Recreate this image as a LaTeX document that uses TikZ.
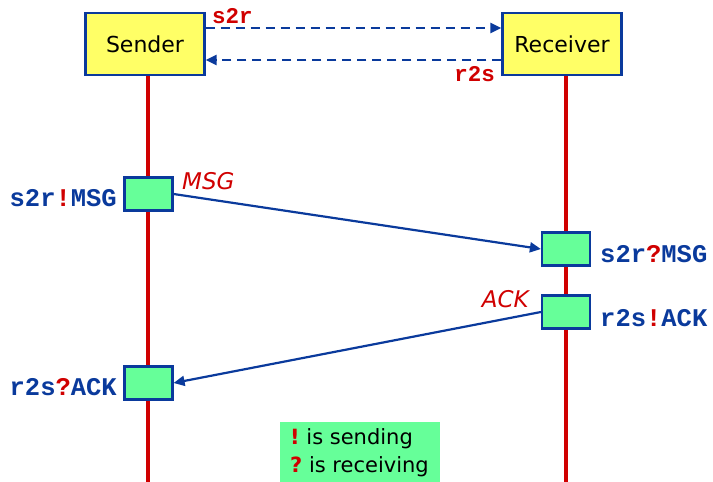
\documentclass[tikz,border=0pt]{standalone}
\usepackage{fontspec}
\setmainfont{DejaVu Sans}
\newfontfamily\codefont{Liberation Mono}
\usetikzlibrary{arrows.meta}
\definecolor{bblue}{HTML}{0A3A9C}
\definecolor{rred}{HTML}{D00000}
\definecolor{yfill}{HTML}{FFFF66}
\definecolor{gfill}{HTML}{66FF99}
\tikzset{
  actor/.style={draw=bblue, line width=2.2pt, fill=yfill, minimum width=119pt, minimum height=62pt, inner sep=0pt, font=\fontsize{22}{26}\selectfont},
  act/.style={draw=bblue, line width=2.2pt, fill=gfill, minimum width=48pt, minimum height=33pt, inner sep=0pt},
  life/.style={rred, line width=4pt},
  chan/.style={bblue, line width=2.2pt, dash pattern=on 9pt off 6pt, -{Triangle[length=11pt,width=10pt]}},
  msg/.style={bblue, line width=2.2pt, -{Triangle[length=11pt,width=10pt]}},
  code/.style={font=\codefont\bfseries\fontsize{25.5}{28}\selectfont, text=bblue, inner sep=0pt},
  chlabel/.style={font=\codefont\bfseries\fontsize{22.5}{26}\selectfont, text=rred, inner sep=0pt},
  mlabel/.style={font=\itshape\fontsize{23}{27}\selectfont, text=rred, inner sep=0pt},
  legtext/.style={anchor=west, inner sep=0pt, font=\fontsize{21}{25}\selectfont},
}
\newcommand{\bang}{\textcolor{rred}{!}}
\newcommand{\qm}{\textcolor{rred}{?}}
\begin{document}
\begin{tikzpicture}[x=1pt,y=-1pt]
\useasboundingbox (0,0) rectangle (713,482);
% lifelines
\coordinate (sb) at (148,482);
\coordinate (rb) at (566,482);
\node[actor] (S) at (145,44) {Sender};
\node[actor] (R) at (562,44) {Receiver};
\draw[life] (148,76) -- (sb);
\draw[life] (566,76) -- (rb);
% channels
\draw[chan] (S.east |- 0,28) -- (R.west |- 0,28);
\draw[chan] (R.west |- 0,60) -- (S.east |- 0,60);
\node[chlabel, anchor=west] (l1) at (212,16) {s2r};
\node[chlabel, anchor=east] (l2) at (495,74) {r2s};
% activations
\node[act] (a1) at (148.5,194) {};
\node[act] (a2) at (566,249) {};
\node[act] (a3) at (566,312) {};
\node[act] (a4) at (148.5,383) {};
\draw[msg] (a1.east) -- (a2.west);
\draw[msg] (a3.west) -- (a4.east);
\node[mlabel, anchor=west] (m1) at (182,181) {MSG};
\node[mlabel, anchor=east] (m2) at (529,299) {ACK};
\node[code, anchor=east] (t1) at (117,198) {s2r\bang MSG};
\node[code, anchor=west] (t2) at (600,254) {s2r\qm MSG};
\node[code, anchor=west] (t3) at (600,318) {r2s\bang ACK};
\node[code, anchor=east] (t4) at (117,387) {r2s\qm ACK};
% legend
\node[fill=gfill, minimum width=160pt, minimum height=60pt, inner sep=0pt] (leg) at (360,452) {};
\node[legtext] (lg1) at (290,439) {\textcolor{rred}{\textbf{!}}\ is sending};
\node[legtext] (lg2) at (290,467) {\textcolor{rred}{\textbf{?}}\ is receiving};
\end{tikzpicture}
\end{document}
